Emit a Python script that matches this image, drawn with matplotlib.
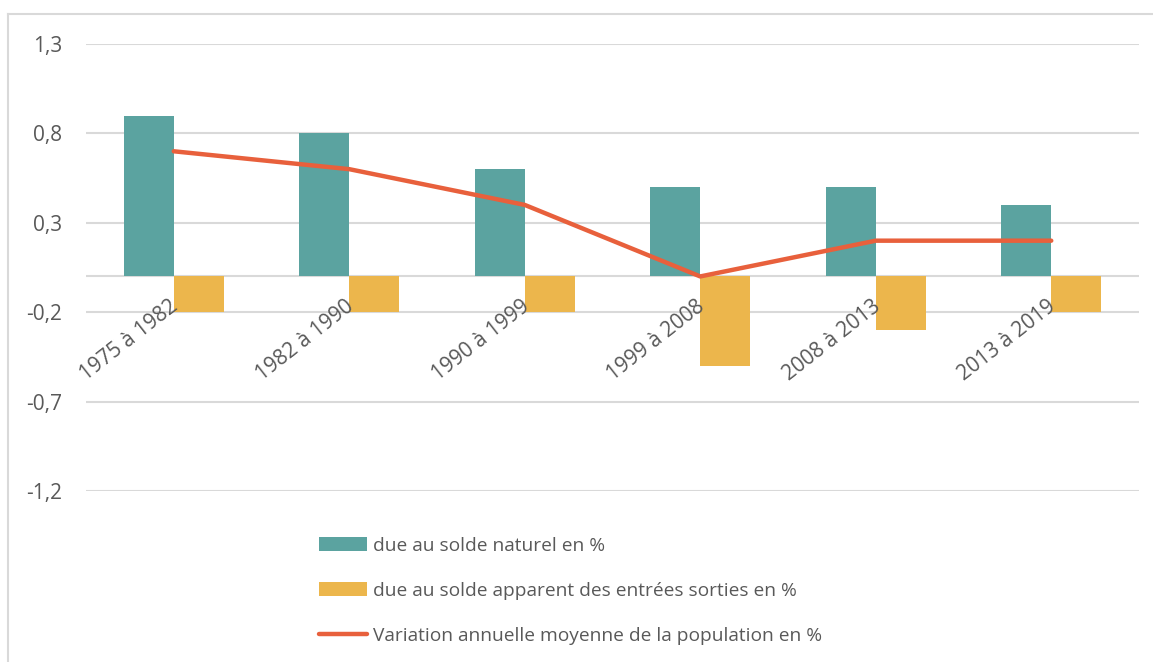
import matplotlib
matplotlib.use("Agg")
import matplotlib.pyplot as plt
from matplotlib.patches import Patch
from matplotlib.lines import Line2D
import numpy as np

categories = ["1975 à 1982", "1982 à 1990", "1990 à 1999", "1999 à 2008", "2008 à 2013", "2013 à 2019"]
solde_naturel = [0.9, 0.8, 0.6, 0.5, 0.5, 0.4]
solde_migratoire = [-0.2, -0.2, -0.2, -0.5, -0.3, -0.2]
variation = [0.7, 0.6, 0.4, 0.0, 0.2, 0.2]
yticks = [-1.2, -0.7, -0.2, 0.3, 0.8, 1.3]
ytick_labels = ["-1,2", "-0,7", "-0,2", "0,3", "0,8", "1,3"]
legend_labels = ["due au solde naturel en %",
                 "due au solde apparent des entrées sorties en %",
                 "Variation annuelle moyenne de la population en %"]

TEAL = "#5BA3A0"
GOLD = "#ECB64C"
RED = "#E8603C"
TXT = "#595959"
GRID = "#D9D9D9"

plt.rcParams['font.family'] = ['Open Sans', 'DejaVu Sans']

W, H = 1153, 662
fig = plt.figure(figsize=(W / 100, H / 100), dpi=100)
ax = fig.add_axes([86 / W, (H - 491) / H, (1139 - 86) / W, (491 - 44) / H])

x = np.arange(len(categories))
bw = 50 / 175.5
ax.bar(x - bw, solde_naturel, width=bw, align='edge', color=TEAL, zorder=2)
ax.bar(x, solde_migratoire, width=bw, align='edge', color=GOLD, zorder=2)
ax.plot(x, variation, color=RED, lw=3.2, solid_capstyle='round', zorder=3)

ax.set_xlim(-0.5, len(categories) - 0.5)
ax.set_ylim(-1.2, 1.3)
ax.set_yticks(yticks)
ax.set_yticklabels(ytick_labels)
ax.yaxis.grid(True, color=GRID, lw=1.5, zorder=0)
ax.axhline(0, color=GRID, lw=1.5, zorder=1)
ax.set_axisbelow(True)
for s in ax.spines.values():
    s.set_visible(False)
ax.tick_params(axis='y', length=0, pad=17, labelsize=15, labelcolor=TXT)
ax.set_xticks([])

for i, lab in enumerate(categories):
    ax.annotate(lab, xy=(i, 0), xytext=(1.5, -20), textcoords='offset points',
                rotation=38, rotation_mode='anchor', ha='right', va='center',
                fontsize=15, color=TXT)

handles = [Patch(facecolor=TEAL, edgecolor='none'),
           Patch(facecolor=GOLD, edgecolor='none'),
           Line2D([0], [0], color=RED, lw=3.2, solid_capstyle='round')]
fig.legend(handles, legend_labels, loc='upper left', bbox_to_anchor=(309 / W, 1 - 527 / H),
           frameon=False, fontsize=13.8, labelcolor=TXT, handlelength=2.55, handleheight=0.75,
           handletextpad=0.3, labelspacing=1.42, borderpad=0)

fig.add_artist(Line2D([8 / W, 1.05], [1 - 14 / H, 1 - 14 / H], transform=fig.transFigure,
                      color=GRID, lw=1.5))
fig.add_artist(Line2D([8 / W, 8 / W], [-0.05, 1 - 14 / H], transform=fig.transFigure,
                      color=GRID, lw=1.5))

fig.savefig("out.png", dpi=100)
